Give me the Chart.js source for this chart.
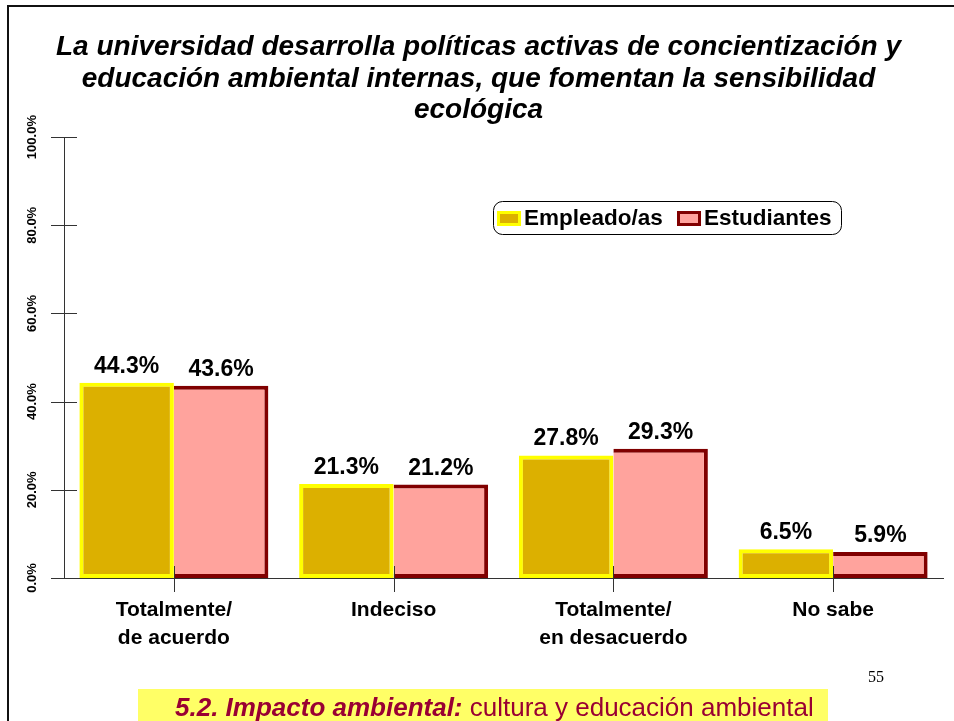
<!DOCTYPE html>
<html>
<head>
<meta charset="utf-8">
<script src="https://cdn.jsdelivr.net/npm/chart.js@4.4.1/dist/chart.umd.min.js"></script>
<style>
  html, body { margin: 0; padding: 0; background: #fff; overflow: hidden; }
</style>
</head>
<body>
<canvas id="chart" width="954" height="721"></canvas>
<script>
const categories = [['Totalmente/', 'de acuerdo'], 'Indeciso', ['Totalmente/', 'en desacuerdo'], 'No sabe'];
const empleados = [44.3, 21.3, 27.8, 6.5];
const estudiantes = [43.6, 21.2, 29.3, 5.9];
const yTicks = [0, 20, 40, 60, 80, 100];
const seriesNames = ['Empleado/as', 'Estudiantes'];
const titleLines = [
  'La universidad desarrolla políticas activas de concientización y',
  'educación ambiental internas, que fomentan la sensibilidad',
  'ecológica'
];
const footerBold = '5.2. Impacto ambiental:';
const footerText = ' cultura y educación ambiental';
const pageNumber = '55';

const FONT = '"Liberation Sans", Arial, sans-serif';
const colors = {
  empFill: '#DCB000', empBorder: '#FFFF00',
  estFill: '#FFA39D', estBorder: '#800000'
};

function roundRect(ctx, x, y, w, h, r) {
  ctx.beginPath();
  ctx.moveTo(x + r, y);
  ctx.arcTo(x + w, y, x + w, y + h, r);
  ctx.arcTo(x + w, y + h, x, y + h, r);
  ctx.arcTo(x, y + h, x, y, r);
  ctx.arcTo(x, y, x + w, y, r);
  ctx.closePath();
}

const decor = {
  id: 'decor',
  afterDatasetsDraw(chart) {
    const ctx = chart.ctx;
    const x = chart.scales.x, y = chart.scales.y;
    const area = chart.chartArea;
    ctx.save();
    ctx.strokeStyle = '#333';
    ctx.lineWidth = 1;
    // tick marks crossing the axes
    yTicks.forEach(v => {
      const py = Math.round(y.getPixelForValue(v)) + 0.5;
      ctx.beginPath();
      ctx.moveTo(area.left - 13, py);
      ctx.lineTo(area.left + 13, py);
      ctx.stroke();
    });
    categories.forEach((c, i) => {
      const px = Math.round(x.getPixelForValue(i)) + 0.5;
      ctx.beginPath();
      ctx.moveTo(px, area.bottom - 12);
      ctx.lineTo(px, area.bottom + 14);
      ctx.stroke();
    });
    // y labels, rotated
    ctx.fillStyle = '#000';
    ctx.font = 'bold 13px ' + FONT;
    ctx.textAlign = 'center';
    ctx.textBaseline = 'middle';
    yTicks.forEach(v => {
      const py = y.getPixelForValue(v);
      ctx.save();
      ctx.translate(32, py);
      ctx.rotate(-Math.PI / 2);
      ctx.fillText(v.toFixed(1) + '%', 0, 0);
      ctx.restore();
    });
    // value labels
    ctx.font = 'bold 23px ' + FONT;
    ctx.textBaseline = 'alphabetic';
    chart.data.datasets.forEach((ds, d) => {
      chart.getDatasetMeta(d).data.forEach((bar, i) => {
        ctx.fillText(ds.data[i].toFixed(1) + '%', bar.x, bar.y - 10);
      });
    });
    ctx.restore();
  },
  afterDraw(chart) {
    const ctx = chart.ctx;
    ctx.save();
    // slide frame
    ctx.fillStyle = '#111';
    ctx.fillRect(7, 5, 947, 2);
    ctx.fillRect(7, 5, 2, 716);

    // legend
    ctx.fillStyle = '#fff';
    ctx.strokeStyle = '#000';
    ctx.lineWidth = 1;
    roundRect(ctx, 493.5, 201.5, 348, 33, 9);
    ctx.fill();
    ctx.stroke();
    const ds = chart.data.datasets;
    const items = [{ x: 497, tx: 524 }, { x: 677, tx: 704 }];
    items.forEach((it, k) => {
      ctx.fillStyle = ds[k].borderColor;
      ctx.fillRect(it.x, 211, 24, 15);
      ctx.fillStyle = ds[k].backgroundColor;
      ctx.fillRect(it.x + 3, 214, 18, 9);
      ctx.fillStyle = '#000';
      ctx.font = 'bold 22.5px ' + FONT;
      ctx.textAlign = 'left';
      ctx.textBaseline = 'middle';
      ctx.fillText(ds[k].label, it.tx, 219);
    });

    // footer
    ctx.fillStyle = '#FFFF66';
    ctx.fillRect(138, 689, 690, 32);
    ctx.textBaseline = 'alphabetic';
    ctx.textAlign = 'left';
    ctx.fillStyle = '#990033';
    ctx.font = 'italic bold 26px ' + FONT;
    ctx.fillText(footerBold, 175, 716);
    const w = ctx.measureText(footerBold).width;
    ctx.font = '26px ' + FONT;
    ctx.fillText(footerText, 175 + w, 716);

    ctx.fillStyle = '#000';
    ctx.font = '16px "Liberation Serif", "Times New Roman", serif';
    ctx.fillText(pageNumber, 868, 682);
    ctx.restore();
  }
};

new Chart(document.getElementById('chart'), {
  type: 'bar',
  data: {
    labels: categories,
    datasets: [
      {
        label: seriesNames[0],
        data: empleados,
        backgroundColor: colors.empFill,
        borderColor: colors.empBorder,
        borderWidth: 4,
        borderSkipped: false
      },
      {
        label: seriesNames[1],
        data: estudiantes,
        backgroundColor: colors.estFill,
        borderColor: colors.estBorder,
        borderWidth: 4,
        borderSkipped: 'left'
      }
    ]
  },
  options: {
    responsive: false,
    animation: false,
    layout: { padding: { top: 32, left: 14, right: 11, bottom: 43 } },
    datasets: { bar: { categoryPercentage: 0.86, barPercentage: 1.0 } },
    plugins: {
      legend: { display: false },
      tooltip: { enabled: false },
      title: {
        display: true,
        text: titleLines,
        color: '#000',
        font: { family: FONT, size: 28, weight: 'bold', style: 'italic', lineHeight: 1.12 },
        padding: { top: 0, bottom: 11 }
      }
    },
    scales: {
      x: {
        grid: { display: false, drawTicks: false, offset: true },
        border: { display: true, color: '#333', width: 1 },
        ticks: {
          color: '#000',
          padding: 18,
          font: { family: FONT, size: 21, weight: 'bold', lineHeight: 1.35 },
          maxRotation: 0
        },
        afterFit(s) { s.height = 100; }
      },
      y: {
        min: 0,
        max: 100,
        grid: { display: false, drawTicks: false },
        border: { display: true, color: '#333', width: 1 },
        ticks: { display: false, stepSize: 20 },
        afterFit(s) { s.width = 50; }
      }
    }
  },
  plugins: [decor]
});
</script>
</body>
</html>
